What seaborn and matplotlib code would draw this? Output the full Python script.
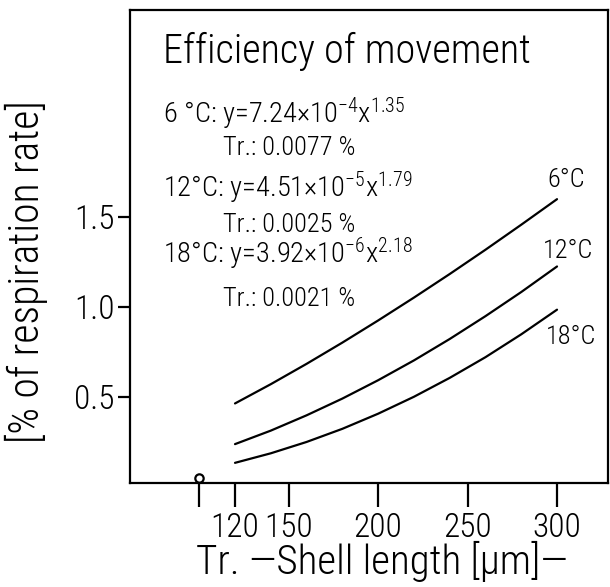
import matplotlib
matplotlib.use('Agg')
import matplotlib.pyplot as plt
from matplotlib import font_manager
import seaborn as sns
import pandas as pd

# shell length [um] and efficiency [% of respiration rate]
shell_length = [120, 140, 160, 180, 200, 220, 240, 260, 280, 300]
eff_6 = [0.464, 0.571, 0.684, 0.802, 0.925, 1.052, 1.183, 1.318, 1.457, 1.599]
eff_12 = [0.238, 0.313, 0.398, 0.491, 0.593, 0.703, 0.822, 0.949, 1.083, 1.225]
eff_18 = [0.134, 0.187, 0.250, 0.323, 0.407, 0.501, 0.606, 0.721, 0.848, 0.985]

temps = ['6°C', '12°C', '18°C']
equations = [r'6 °C: y=7.24$\times$10$^{-4}$x$^{1.35}$',
             r'12°C: y=4.51$\times$10$^{-5}$x$^{1.79}$',
             r'18°C: y=3.92$\times$10$^{-6}$x$^{2.18}$']
transfer = ['Tr.: 0.0077 %', 'Tr.: 0.0025 %', 'Tr.: 0.0021 %']

xticks = [100, 120, 150, 200, 250, 300]
xticklabels = ['', '120', '150', '200', '250', '300']
yticks = [0.5, 1.0, 1.5]
tr_x = 100

df = pd.DataFrame({'length': shell_length * 3,
                   'eff': eff_6 + eff_12 + eff_18,
                   'temp': sum([[t] * len(shell_length) for t in temps], [])})

installed = {f.name for f in font_manager.fontManager.ttflist}
fam = next((f for f in ['Roboto Condensed', 'Liberation Sans Narrow', 'DejaVu Sans Condensed',
                        'Roboto', 'DejaVu Sans'] if f in installed), 'DejaVu Sans')

sns.set_style('ticks')
plt.rcParams['font.family'] = [fam, 'DejaVu Sans']
plt.rcParams['font.weight'] = 'light'
plt.rcParams['axes.labelweight'] = 'light'
plt.rcParams['text.color'] = 'black'
plt.rcParams['axes.labelcolor'] = 'black'
plt.rcParams['xtick.color'] = 'black'
plt.rcParams['ytick.color'] = 'black'
plt.rcParams['mathtext.fontset'] = 'custom'
plt.rcParams['mathtext.rm'] = fam + ':light'
plt.rcParams['mathtext.it'] = fam + ':light'

fig = plt.figure(figsize=(6.10, 5.87), dpi=100)
ax = fig.add_axes([130 / 610, 1 - 483 / 587, 478 / 610, 473 / 587])

sns.lineplot(data=df, x='length', y='eff', units='temp', estimator=None,
             color='black', linewidth=1.6, ax=ax, legend=False)

ax.set_xlim(61.3, 328.5)
ax.set_ylim(0.022, 2.65)
ax.set_xticks(xticks)
ax.set_xticklabels(xticklabels)
ax.set_yticks(yticks)
ax.set_yticklabels([f'{v:.1f}' for v in yticks])
ax.tick_params(axis='x', length=17, width=1.6, pad=4, labelsize=24)
ax.tick_params(axis='y', length=9, width=1.6, pad=2, labelsize=24)
for s in ax.spines.values():
    s.set_linewidth(1.6)
    s.set_color('black')

# small open circle marking the Tr. position on the axis
ax.plot([tr_x], [0.05], marker='o', markersize=6, markerfacecolor='white',
        markeredgecolor='black', markeredgewidth=1.6, clip_on=False, zorder=5)

ax.set_xlabel('Tr. —Shell length [µm]—', fontsize=29.5, fontweight='light')
ax.xaxis.set_label_coords(0.527, -0.123, transform=ax.transAxes)
ax.set_ylabel('[% of respiration rate]', fontsize=30, fontweight='light')
ax.yaxis.set_label_coords(-0.172, 0.446, transform=ax.transAxes)

ax.text(79.7, 2.356, 'Efficiency of movement', fontsize=29, ha='left', va='baseline')

eq_y = [2.022, 1.611, 1.244]
tr_y = [1.844, 1.417, 1.006]
for eq, tr, ey, ty in zip(equations, transfer, eq_y, tr_y):
    ax.text(79.7, ey, eq, fontsize=20.5, ha='left', va='baseline')
    ax.text(113.3, ty, tr, fontsize=19, ha='left', va='baseline')

lab_pos = [(294.4, 1.667), (292.0, 1.272), (294.0, 0.794)]
for t, (lx, ly) in zip(temps, lab_pos):
    ax.text(lx, ly, t, fontsize=19, ha='left', va='baseline')

fig.savefig('out.png', dpi=100)
